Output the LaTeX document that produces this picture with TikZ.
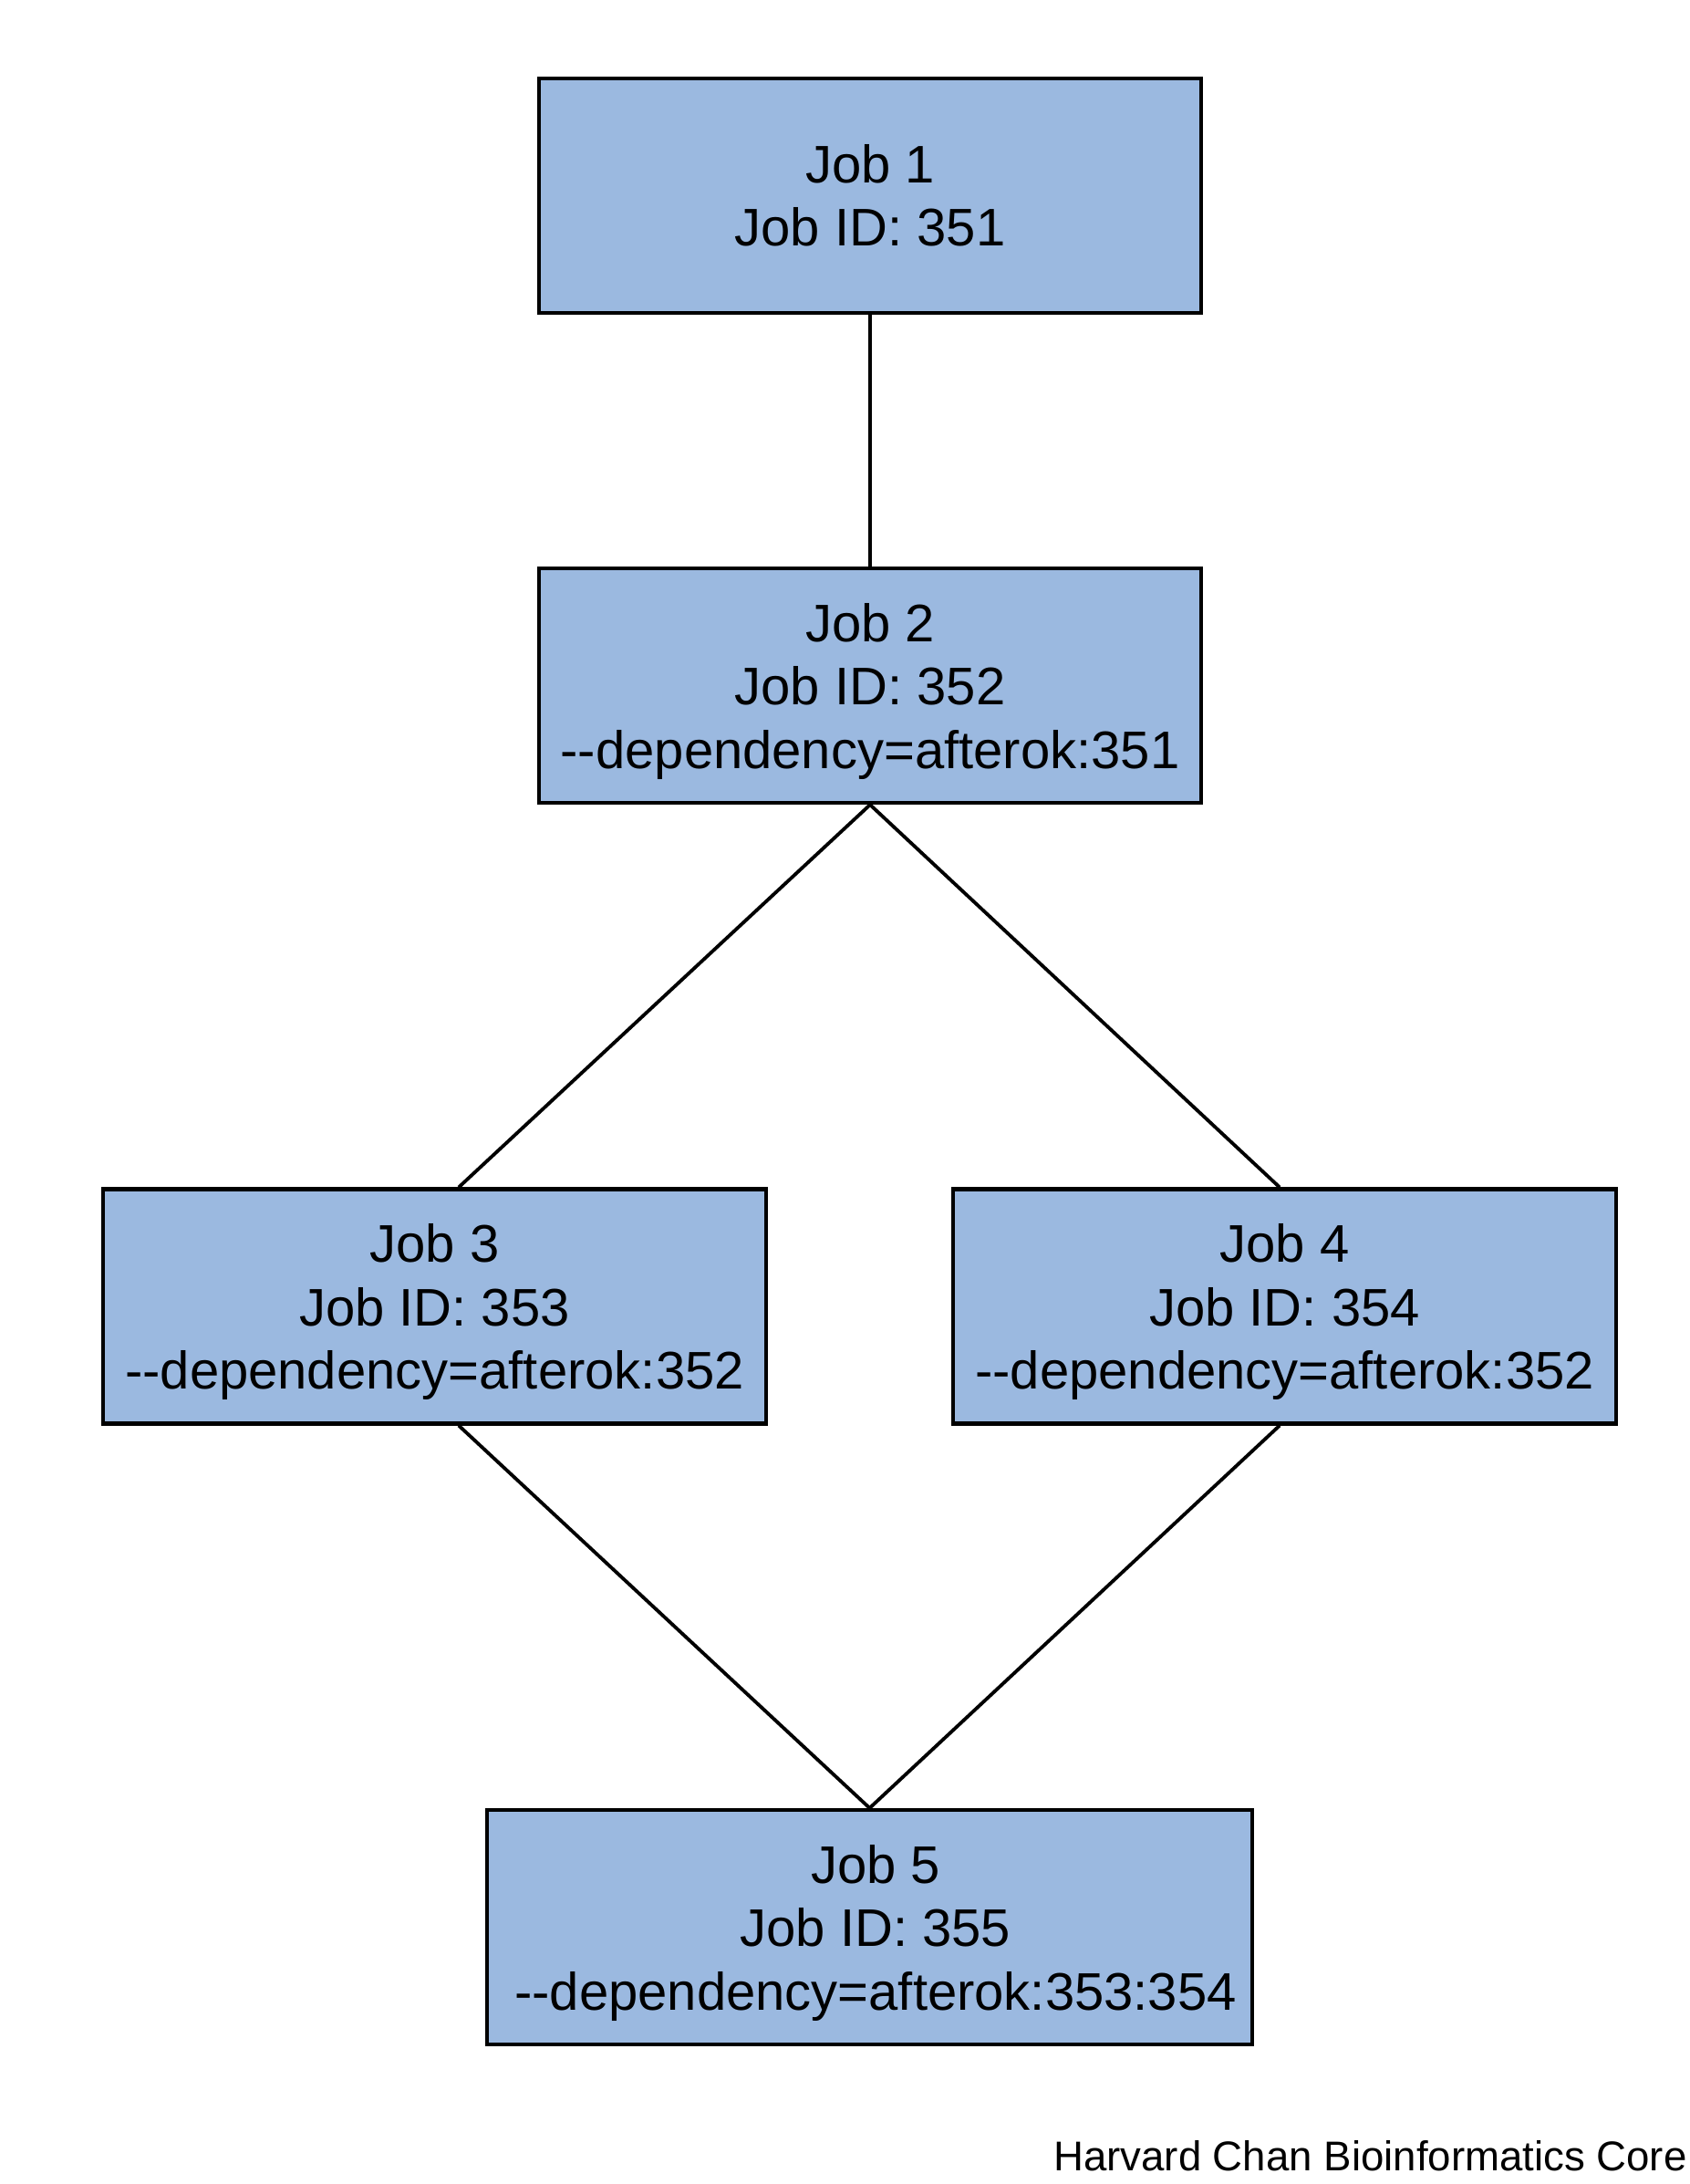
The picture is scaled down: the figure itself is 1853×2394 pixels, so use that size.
\documentclass[tikz,border=0pt]{standalone}
\usepackage{fontspec}
\setmainfont{Liberation Sans}
\usetikzlibrary{calc}
\definecolor{jobfill}{RGB}{155,185,224}
\newcommand{\dd}{\mbox{-}\mbox{-}}
\begin{document}
\begin{tikzpicture}[x=0.5pt,y=-0.5pt,
  jobbox/.style={draw=black, line width=2.1pt, fill=jobfill, rectangle, inner sep=0pt,
    minimum height=128.5pt, align=center, font=\fontsize{29}{34.75}\selectfont},
  link/.style={draw=black, line width=1.9pt}]
\useasboundingbox (0,0) rectangle (1853,2394);
\node[jobbox, minimum width=363pt] (j1) at (954,214.5) {Job 1\\Job ID: 351};
\node[jobbox, minimum width=363pt] (j2) at (954,751.5) {Job 2\\Job ID: 352\\\smash{\dd dependency=afterok:351}};
\node[jobbox, minimum width=363.5pt] (j3) at (476.5,1432) {Job 3\\Job ID: 353\\\smash{\dd dependency=afterok:352}};
\node[jobbox, minimum width=363.5pt] (j4) at (1408.5,1432) {Job 4\\Job ID: 354\\\smash{\dd dependency=afterok:352}};
\node[jobbox, minimum width=419.5pt] (j5) at (953.5,2112.5) {\hspace*{6.5pt}Job 5\\\hspace*{6.5pt}Job ID: 355\\\smash{\hspace*{6.5pt}\dd dependency=afterok:353:354}};
\node[anchor=east, inner sep=0pt, font=\fontsize{22.8}{27}\selectfont] (credit) at (1850,2363) {Harvard Chan Bioinformatics Core};
\coordinate (j3in) at ($(j3.north)+(26.5,0)$);
\coordinate (j3out) at ($(j3.south)+(26.5,0)$);
\coordinate (j4in) at ($(j4.north)+(-5.5,0)$);
\coordinate (j4out) at ($(j4.south)+(-5.5,0)$);
\draw[link] (j1.south) -- (j2.north);
\draw[link] (j2.south) -- (j3in);
\draw[link] (j2.south) -- (j4in);
\draw[link] (j3out) -- (j5.north);
\draw[link] (j4out) -- (j5.north);
\end{tikzpicture}
\end{document}
